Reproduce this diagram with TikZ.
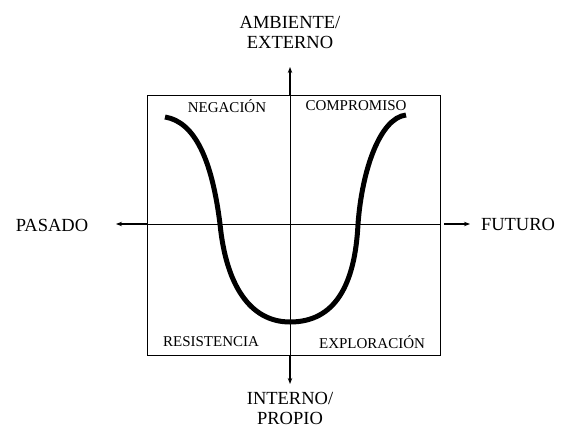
\documentclass[tikz,border=0pt]{standalone}
\usepackage{fontspec}
\setmainfont{Liberation Serif}
\usetikzlibrary{arrows.meta}
\begin{document}
\begin{tikzpicture}[x=1pt,y=-1pt,
  big/.style={font=\fontsize{18.5}{20}\selectfont, align=center, inner sep=0pt},
  small/.style={font=\fontsize{15}{17}\selectfont, inner sep=0pt},
  axisline/.style={line width=0.8pt},
  outarrow/.style={line width=1.2pt,-{Stealth[length=6pt,width=4.5pt]}},
  ucurve/.style={line width=5pt}]
\useasboundingbox (0,0) rectangle (561,427);
\node[draw, line width=0.9pt, minimum width=293pt, minimum height=260pt, inner sep=0pt] (box) at (293.5,225) {};
\coordinate (ctop) at (290,95);
\coordinate (cbot) at (290,355);
\coordinate (cleft) at (147,224);
\coordinate (cright) at (440,224);
\coordinate (tipup) at (290,67);
\coordinate (tipdown) at (290,384);
\coordinate (tipleft) at (116,224);
\coordinate (tipright) at (470,224);
\draw[axisline] (ctop) -- (cbot);
\draw[axisline] (cleft) -- (cright);
\draw[outarrow] (ctop) -- (tipup);
\draw[outarrow] (cbot) -- (tipdown);
\draw[outarrow] (cleft) -- (tipleft);
\draw[outarrow] ([xshift=4pt]cright) -- (tipright);
\node[big] (amb) at (290,32) {AMBIENTE/\\EXTERNO};
\node[big] (int) at (290,408) {INTERNO/\\PROPIO};
\node[big] (pas) at (52,225) {PASADO};
\node[big] (fut) at (518,224) {FUTURO};
\node[small] (neg) at (227,106) {NEGACIÓN};
\node[small] (comp) at (356,106) {COMPROMISO};
\node[small] (res) at (211,342) {RESISTENCIA};
\node[small] (expl) at (372,342) {EXPLORACIÓN};
\draw[ucurve] (165,117) .. controls (195,122) and (212,160) .. (220,224)
  .. controls (226,285) and (250,322) .. (290,322)
  .. controls (335,322) and (355,285) .. (358,224)
  .. controls (362,170) and (380,118) .. (406,115);
\end{tikzpicture}
\end{document}
